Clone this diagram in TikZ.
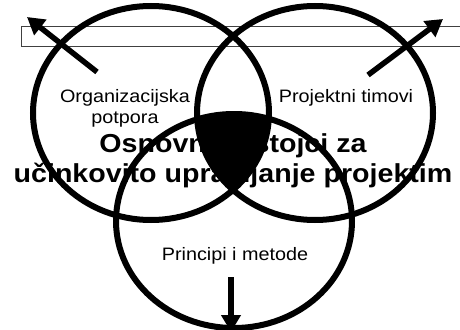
\documentclass[tikz,border=0pt]{standalone}
\usepackage{fontspec}
\setmainfont{Liberation Sans}
\usetikzlibrary{arrows.meta}

\begin{document}
\begin{tikzpicture}[x=1pt, y=-1pt, every node/.style={font=\fontsize{18}{20.7}\selectfont, align=center, xscale=1.1, inner sep=0pt}, venn/.style={line width=6pt}, arr/.style={line width=5.5pt, -{Triangle[length=17pt,width=19pt]}}]
        \clip (0,0) rectangle (460,329);
        \draw[black!75, line width=1pt] (21,27) rectangle (480,47);
        \coordinate (lc) at (151,113);
        \coordinate (rc) at (315,113);
        \coordinate (bc) at (234,221);
        \coordinate (orgtail) at (97,72);
        \coordinate (orgtip) at (27,17);
        \coordinate (timtail) at (368,75);
        \coordinate (timtip) at (443,19);
        \coordinate (mettail) at (231,277);
        \coordinate (mettip) at (231,332);
        \node[anchor=base] (org) at (125,123) {Organizacijska\\potpora};
        \node[anchor=base] (tim) at (346,102) {Projektni timovi};
        \node[anchor=base] (met) at (235,260) {Principi i metode};
        \node[anchor=base, font=\fontsize{26}{30}\selectfont\bfseries] (title) at (233,182) {Osnovni sastojci za\\učinkovito upravljanje projektim};
        \draw[venn] (lc) ellipse [x radius=118pt, y radius=107pt];
        \draw[venn] (rc) ellipse [x radius=118pt, y radius=107pt];
        \draw[venn] (bc) ellipse [x radius=118pt, y radius=107pt];
        \begin{scope}
            \clip (lc) ellipse [x radius=118pt, y radius=107pt];
            \clip (rc) ellipse [x radius=118pt, y radius=107pt];
            \fill (bc) ellipse [x radius=118pt, y radius=107pt];
        \end{scope}
        \draw[arr] (orgtail) -- (orgtip);
        \draw[arr] (timtail) -- (timtip);
        \draw[arr] (mettail) -- (mettip);
    \end{tikzpicture}
\end{document}
